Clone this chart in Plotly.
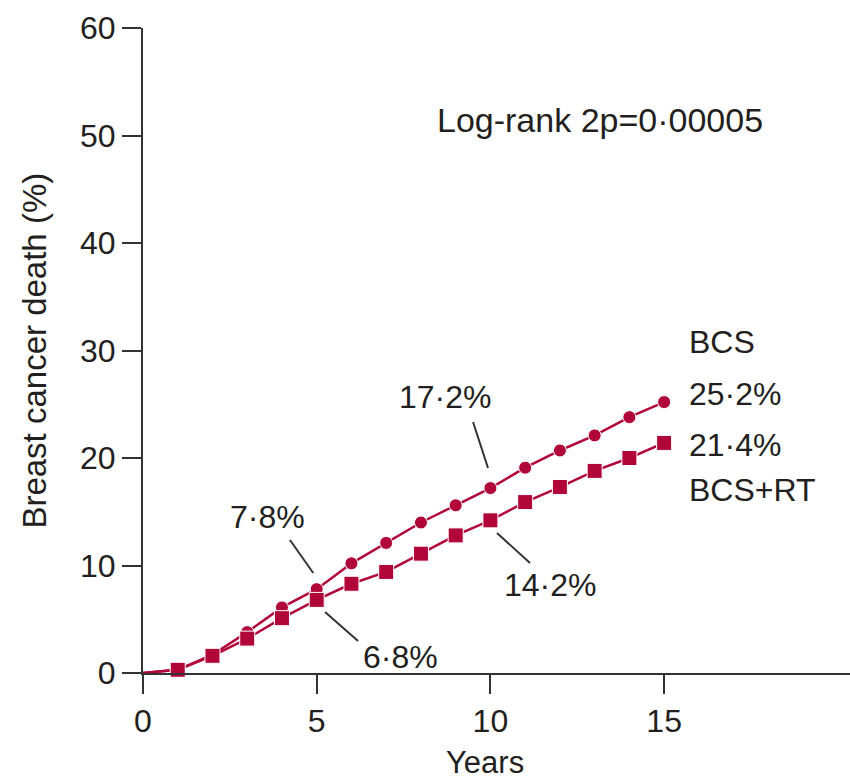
import plotly.graph_objects as go

# ---- data ----
years = list(range(0, 16))
bcs = [0, 0.3, 1.7, 3.8, 6.1, 7.8, 10.2, 12.1, 14.0, 15.6, 17.2, 19.1, 20.7, 22.1, 23.8, 25.2]
bcs_rt = [0, 0.3, 1.6, 3.2, 5.1, 6.8, 8.3, 9.4, 11.1, 12.8, 14.2, 15.9, 17.3, 18.8, 20.0, 21.4]
y_ticks = [0, 10, 20, 30, 40, 50, 60]
x_ticks = [0, 5, 10, 15]

RED = "#B1063A"
INK = "#231F20"
AXIS = "#333333"
FONT = "Liberation Sans, Arial, sans-serif"

fig = go.Figure()

# marker hidden at year 0 (line starts at origin)
def sizes(n, s):
    return [0] + [s] * (n - 1)

fig.add_trace(go.Scatter(
    x=years, y=bcs, mode="lines+markers", name="BCS",
    line=dict(color=RED, width=2.5),
    marker=dict(symbol="circle", size=sizes(len(years), 13), color=RED, opacity=1),
    cliponaxis=False, showlegend=False))
fig.add_trace(go.Scatter(
    x=years, y=bcs_rt, mode="lines+markers", name="BCS+RT",
    line=dict(color=RED, width=2.5),
    marker=dict(symbol="square", size=sizes(len(years), 15), color=RED, opacity=1),
    cliponaxis=False, showlegend=False))

# ---- annotations (text) ----
notes = [
    ("Log-rank 2p=0·00005", 13.16, 51.4, "center", 34),
    ("7·8%", 3.57, 14.5, "center", 32),
    ("17·2%", 8.72, 25.67, "center", 32),
    ("14·2%", 11.72, 8.19, "center", 32),
    ("6·8%", 7.40, 1.49, "center", 32),
    ("BCS", 15.66, 30.8, "left", 32),
    ("25·2%", 15.66, 26.0, "left", 32),
    ("21·4%", 15.66, 21.2, "left", 32),
    ("BCS+RT", 15.66, 17.0, "left", 32),
]
for txt, x, y, anchor, fs in notes:
    fig.add_annotation(x=x, y=y, text=txt, showarrow=False, xanchor=anchor,
                       yanchor="middle", font=dict(family=FONT, size=fs, color=INK))

# leader lines
leaders = [
    (4.23, 12.37, 4.90, 9.30),
    (9.50, 23.35, 9.93, 19.07),
    (10.19, 13.02, 11.14, 10.23),
    (5.24, 5.67, 6.19, 2.98),
]
for x0, y0, x1, y1 in leaders:
    fig.add_shape(type="line", x0=x0, y0=y0, x1=x1, y1=y1, xref="x", yref="y",
                  line=dict(color=AXIS, width=2))

# axis titles as annotations
fig.add_annotation(xref="paper", yref="paper", x=-0.154, y=0.5, text="Breast cancer death (%)",
                   textangle=-90, showarrow=False, xanchor="center", yanchor="middle",
                   font=dict(family=FONT, size=33, color=INK))
fig.add_annotation(xref="paper", yref="paper", x=0.484, y=-0.1395, text="Years",
                   showarrow=False, xanchor="center", yanchor="middle",
                   font=dict(family=FONT, size=31, color=INK))

fig.update_layout(
    width=850, height=779,
    margin=dict(l=143, r=0, t=28, b=106),
    plot_bgcolor="white", paper_bgcolor="white",
    font=dict(family=FONT, size=32, color=INK),
)
fig.update_xaxes(range=[0, 20.35], tickvals=x_ticks, ticks="outside", ticklen=19,
                 tickwidth=2, tickcolor=AXIS, showline=True, linecolor=AXIS, linewidth=2,
                 showgrid=False, zeroline=False, tickfont=dict(family=FONT, size=32, color=INK))
fig.update_yaxes(range=[0, 60], tickvals=y_ticks, ticks="outside", ticklen=19,
                 tickwidth=2, tickcolor=AXIS, showline=True, linecolor=AXIS, linewidth=2,
                 showgrid=False, zeroline=False, tickfont=dict(family=FONT, size=32, color=INK))

fig.write_html("out.html")
